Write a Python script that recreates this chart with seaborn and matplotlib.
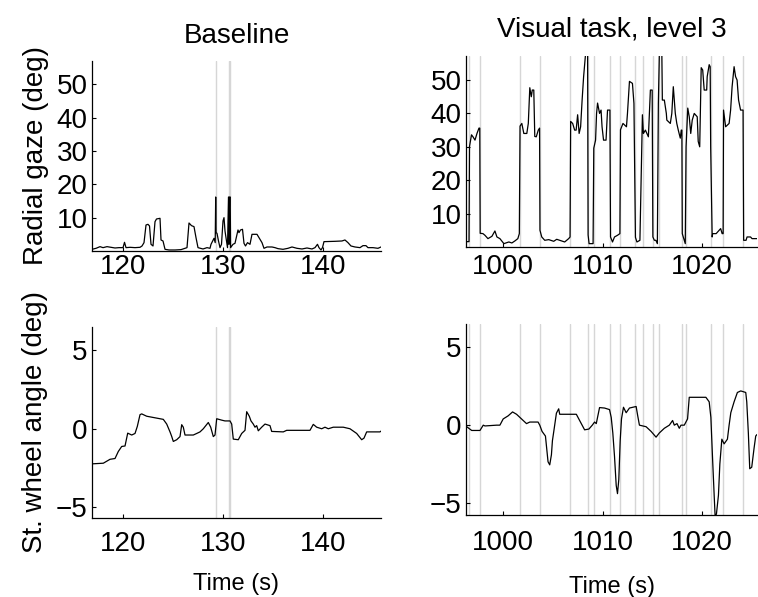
import numpy as np
import pandas as pd
import matplotlib
matplotlib.use("Agg")
import matplotlib.pyplot as plt
import seaborn as sns

sns.set_style("ticks")
plt.rcParams['font.family'] = ['Liberation Sans', 'DejaVu Sans']
plt.rcParams['text.color'] = 'black'
plt.rcParams['axes.labelcolor'] = 'black'

# --- Baseline: radial gaze (deg) ---
bl_gaze_t = [116.9, 117.3, 117.7, 118.0, 118.4, 118.8, 119.2, 119.6, 120.0, 120.15, 120.3, 120.7,
             121.2, 121.7, 121.9, 122.1, 122.3, 122.5, 122.65, 122.8, 123.0, 123.2, 123.35, 123.7,
             123.8, 124.0, 124.2, 124.6, 125.2, 125.8, 126.4, 126.6, 126.85, 127.1, 127.3, 127.5,
             128.0, 128.4, 128.7, 128.8, 129.1, 129.22, 129.27, 129.31, 129.4, 129.55, 129.7, 129.85,
             130.0, 130.1, 130.2, 130.3, 130.45, 130.55, 130.6, 130.65, 130.72, 130.76, 131.0, 131.2,
             131.5, 131.6, 131.75, 131.95, 132.1, 132.25, 132.45, 132.7, 132.9, 133.4, 133.6, 133.9,
             134.1, 134.4, 134.9, 135.2, 135.5, 136.0, 136.5, 136.9, 137.4, 137.9, 138.4, 138.9,
             139.2, 139.45, 139.6, 139.8, 139.95, 140.1, 141.2, 141.9, 142.2, 142.5, 142.8, 143.2,
             143.7, 144.0, 144.3, 144.5, 145.0, 145.5, 145.8]
bl_gaze = [0.5, 0.8, 1.3, 1.0, 1.3, 1.1, 0.9, 1.0, 1.0, 2.6, 1.0, 1.1,
           1.0, 1.1, 1.5, 2.5, 7.8, 8.0, 7.5, 2.0, 1.5, 8.8, 9.6, 9.8,
           3.3, 3.0, 0.5, 0.3, 0.3, 0.4, 1.0, 8.4, 7.6, 7.3, 4.0, 1.0,
           0.6, 1.0, 0.8, 2.0, 3.8, 2.5, 16.2, 5.5, 5.3, 3.0, 1.0, 2.0,
           9.0, 10.0, 6.0, 4.0, 1.0, 16.2, 2.0, 16.2, 16.2, 1.0, 2.0, 2.3,
           6.3, 5.5, 6.3, 6.5, 2.3, 1.5, 2.5, 2.0, 5.0, 5.0, 4.0, 2.5,
           0.8, 1.2, 1.2, 1.0, 0.7, 0.5, 0.8, 1.2, 0.8, 0.6, 0.9, 0.6,
           1.0, 2.0, 1.0, 0.3, 1.0, 2.8, 2.9, 3.0, 3.3, 2.5, 1.5, 1.2,
           1.0, 1.6, 1.6, 1.0, 1.0, 0.8, 1.2]

# --- Baseline: steering wheel angle (deg) ---
bl_swa_t = [116.93, 118.03, 118.7, 119.2, 119.53, 119.87, 120.2, 120.47, 120.87, 121.2, 121.43,
            121.7, 121.87, 122.37, 124.03, 124.37, 124.7, 124.87, 125.03, 125.37, 125.7, 125.87,
            126.03, 126.2, 127.03, 127.37, 127.7, 128.03, 128.53, 128.77, 129.03, 129.2, 129.37,
            129.87, 130.2, 130.7, 130.87, 131.03, 131.53, 131.87, 132.2, 132.37, 132.63, 132.8,
            133.03, 133.2, 133.37, 133.53, 133.87, 134.2, 134.7, 134.87, 136.03, 136.37, 138.7,
            139.03, 139.37, 139.87, 140.2, 140.53, 141.03, 142.03, 142.7, 143.37, 143.87, 144.1,
            144.37, 145.7, 145.8]
bl_swa = [-2.24, -2.2, -1.95, -1.9, -1.45, -1.13, -1.1, -0.28, -0.4, -0.3, 0.15,
          0.9, 0.95, 0.8, 0.6, 0.3, -0.2, -0.49, -0.81, -0.7, -0.5, 0.26,
          0.1, -0.4, -0.4, -0.3, -0.2, 0.0, 0.4, 0.1, -0.5, -0.4, 0.64,
          0.55, 0.5, 0.5, 0.3, -0.66, -0.7, -0.3, -0.1, 1.09, 0.8, 0.5,
          0.3, 0.1, 0.2, -0.13, 0.1, 0.3, 0.2, -0.17, -0.2, -0.1, -0.1,
          0.28, 0.1, 0.0, 0.1, 0.0, 0.1, 0.1, 0.0, -0.3, -0.7, -0.6,
          -0.2, -0.2, -0.15]

# --- Visual task level 3: radial gaze (deg) ---
vt_gaze_t = [996.3, 996.33, 996.6, 996.65, 996.85, 997.0, 997.2, 997.4, 997.6, 997.68, 997.72,
             998.0, 998.2, 998.5, 998.9, 999.2, 999.4, 999.7, 1000.1, 1000.6, 1000.9, 1001.2,
             1001.5, 1001.65, 1001.72, 1001.9, 1002.1, 1002.4, 1002.55, 1002.7, 1002.85, 1002.95,
             1003.1, 1003.2, 1003.35, 1003.55, 1003.68, 1003.72, 1003.9, 1004.2, 1004.6, 1005.1,
             1005.4, 1005.7, 1006.2, 1006.6, 1006.74, 1006.8, 1007.0, 1007.2, 1007.35, 1007.5,
             1007.65, 1007.8, 1007.95, 1008.1, 1008.3, 1008.5, 1008.55, 1008.65, 1009.05, 1009.12,
             1009.3, 1009.4, 1009.5, 1009.7, 1009.85, 1009.95, 1010.1, 1010.35, 1010.5, 1010.74,
             1010.8, 1011.0, 1011.2, 1011.5, 1011.74, 1011.8, 1012.05, 1012.4, 1012.5, 1012.7,
             1013.0, 1013.15, 1013.3, 1013.45, 1013.75, 1014.0, 1014.1, 1014.3, 1014.45, 1014.6,
             1014.8, 1014.98, 1015.05, 1015.2, 1015.35, 1015.5, 1015.6, 1015.7, 1015.95, 1016.0,
             1016.2, 1016.4, 1016.45, 1016.8, 1016.95, 1017.1, 1017.3, 1017.45, 1017.6, 1017.8,
             1017.9, 1017.96, 1018.0, 1018.2, 1018.3, 1018.38, 1018.55, 1018.7, 1018.85, 1019.0,
             1019.2, 1019.5, 1019.6, 1019.75, 1019.9, 1020.05, 1020.2, 1020.45, 1020.5, 1020.7,
             1020.8, 1020.85, 1021.0, 1021.05, 1021.4, 1021.7, 1021.85, 1022.0, 1022.1, 1022.14,
             1022.35, 1022.7, 1022.85, 1023.0, 1023.2, 1023.35, 1023.5, 1023.65, 1023.85, 1024.1,
             1024.16, 1024.4, 1024.5, 1024.85, 1025.0, 1025.5]
vt_gaze = [58.0, 1.6, 1.6, 30.1, 33.6, 33.0, 32.0, 34.0, 35.6, 35.6, 4.1,
           4.0, 3.5, 2.5, 3.2, 4.8, 3.0, 2.5, 1.0, 1.5, 1.2, 1.8,
           2.5, 4.0, 36.2, 37.0, 34.0, 34.0, 37.0, 47.7, 45.0, 47.0,
           47.0, 33.1, 33.0, 35.0, 35.6, 5.0, 3.0, 2.0, 2.2, 1.7,
           2.3, 2.0, 1.5, 2.5, 3.0, 37.6, 37.0, 35.0, 35.0, 39.6,
           34.0, 36.0, 44.0, 51.0, 58.0, 58.0, 3.6, 1.0, 1.0, 29.6,
           32.0, 40.0, 43.1, 40.0, 41.0, 36.0, 32.0, 32.0, 41.0, 41.0,
           3.0, 1.5, 3.0, 3.5, 4.0, 35.1, 37.0, 36.0, 40.0, 49.6,
           49.0, 43.0, 2.9, 1.5, 2.0, 39.6, 34.0, 35.0, 34.0, 33.0,
           47.0, 47.0, 3.0, 2.0, 2.0, 1.0, 43.0, 58.0, 58.0, 44.0,
           44.0, 40.0, 38.0, 37.0, 40.0, 48.0, 40.0, 37.0, 35.0, 32.6,
           35.0, 35.0, 4.0, 2.0, 1.0, 30.0, 41.6, 39.0, 34.0, 38.0,
           40.0, 39.0, 31.6, 30.0, 53.7, 53.0, 47.0, 47.0, 51.0, 54.6,
           54.0, 30.0, 3.0, 4.0, 4.0, 5.0, 5.5, 4.0, 4.0, 41.0,
           36.0, 37.0, 41.0, 48.0, 54.0, 51.0, 50.0, 44.0, 41.0, 41.0,
           2.0, 2.0, 3.0, 3.0, 2.5, 2.5]

# --- Visual task level 3: steering wheel angle (deg) ---
vt_swa_t = [996.37, 996.87, 997.7, 998.03, 998.2, 999.37, 999.7, 1000.03, 1000.53, 1000.97,
            1001.37, 1001.87, 1002.37, 1002.7, 1003.53, 1003.7, 1003.93, 1004.27, 1004.53, 1004.7,
            1004.87, 1004.97, 1005.13, 1005.37, 1005.6, 1005.7, 1007.37, 1007.7, 1008.2, 1008.63,
            1008.97, 1009.2, 1009.37, 1009.7, 1010.2, 1010.7, 1010.87, 1011.03, 1011.2, 1011.37,
            1011.5, 1011.63, 1011.77, 1011.9, 1012.1, 1012.37, 1012.7, 1013.37, 1013.53, 1013.7,
            1014.37, 1014.87, 1015.37, 1015.7, 1016.2, 1016.7, 1017.03, 1017.2, 1017.47, 1017.7,
            1017.87, 1018.2, 1018.53, 1018.7, 1020.37, 1020.7, 1020.87, 1021.03, 1021.2, 1021.3,
            1021.43, 1021.63, 1021.77, 1021.97, 1022.2, 1022.53, 1022.7, 1022.87, 1023.2, 1023.53,
            1023.87, 1024.37, 1024.47, 1024.63, 1024.77, 1024.97, 1025.2, 1025.37, 1025.5]
vt_swa = [-0.1, -0.34, -0.34, 0.0, -0.05, 0.0, 0.0, 0.4, 0.6, 0.85,
          0.7, 0.4, 0.1, 0.2, 0.2, 0.0, -0.4, -0.7, -2.35, -2.55,
          -1.9, -1.0, -0.3, 0.77, 1.05, 0.7, 0.7, 0.3, -0.3, -0.25,
          0.0, 0.2, 0.1, 1.13, 1.1, 1.0, 0.5, -0.5, -2.0, -3.87,
          -4.4, -3.5, -1.0, 0.4, 1.15, 0.8, 1.1, 1.2, 0.6, 0.0,
          -0.1, -0.4, -0.77, -0.5, -0.2, 0.0, 0.3, 0.0, 0.1, -0.2,
          0.0, 0.0, 0.4, 1.79, 1.79, 1.5, 0.5, -2.0, -4.5, -5.9,
          -5.7, -4.5, -2.5, -0.9, -1.2, -0.9, 0.0, 0.8, 1.5, 2.1,
          2.2, 2.1, 1.5, -0.5, -2.8, -2.7, -1.5, -0.7, -0.6]

# event markers (grey vertical lines)
bl_events = [129.3, 130.6, 130.72]
vt_events = [996.63, 997.7, 1001.7, 1003.7, 1006.77, 1008.53, 1009.1, 1010.77, 1011.77,
             1013.3, 1014.03, 1015.03, 1015.63, 1017.97, 1018.37, 1020.87, 1022.13, 1024.13]

fig = plt.figure(figsize=(7.58, 5.97), dpi=100)
ax_tl = fig.add_axes([0.1214, 0.5796, 0.3812, 0.3182])
ax_tr = fig.add_axes([0.6148, 0.5863, 0.3839, 0.3199])
ax_bl = fig.add_axes([0.1214, 0.1323, 0.3812, 0.3200])
ax_br = fig.add_axes([0.6148, 0.1374, 0.3839, 0.3199])


def draw(ax, t, v, events, xlim, ylim, xticks, yticks, xpad):
    for e in events:
        ax.axvline(e, color="#d6d6d6", lw=1.0, zorder=0)
    df = pd.DataFrame({"t": t, "v": v})
    sns.lineplot(data=df, x="t", y="v", ax=ax, color="black", lw=0.9,
                 estimator=None, sort=False)
    ax.set_xlim(*xlim)
    ax.set_ylim(*ylim)
    ax.set_xticks(xticks)
    ax.set_yticks(yticks)
    ax.set_xlabel("")
    ax.set_ylabel("")
    ax.tick_params(direction="in", length=3, width=0.8, labelsize=20, colors="black")
    ax.tick_params(axis="y", pad=3)
    ax.tick_params(axis="x", pad=xpad)
    sns.despine(ax=ax)
    for s in ["left", "bottom"]:
        ax.spines[s].set_linewidth(0.9)
        ax.spines[s].set_color("black")


draw(ax_tl, bl_gaze_t, bl_gaze, bl_events, (116.9, 145.8), (0, 57), [120, 130, 140],
     [10, 20, 30, 40, 50], 2)
draw(ax_tr, vt_gaze_t, vt_gaze, vt_events, (996.3, 1025.5), (0, 57.2), [1000, 1010, 1020],
     [10, 20, 30, 40, 50], 5)
draw(ax_bl, bl_swa_t, bl_swa, bl_events, (116.9, 145.8), (-5.7, 6.5), [120, 130, 140],
     [-5, 0, 5], 9)
draw(ax_br, vt_swa_t, vt_swa, vt_events, (996.3, 1025.5), (-5.77, 6.5), [1000, 1010, 1020],
     [-5, 0, 5], 11)

ax_tl.set_title("Baseline", fontsize=20, pad=13, color="black")
ax_tr.set_title("Visual task, level 3", fontsize=20, pad=14, color="black")
ax_tl.set_ylabel("Radial gaze (deg)", fontsize=20, labelpad=6, color="black")
ax_bl.set_ylabel("St. wheel angle (deg)", fontsize=20, labelpad=6, color="black")
ax_bl.set_xlabel("Time (s)", fontsize=17, labelpad=12, color="black")
ax_br.set_xlabel("Time (s)", fontsize=17, labelpad=14, color="black")

fig.savefig("out.png", dpi=100)
